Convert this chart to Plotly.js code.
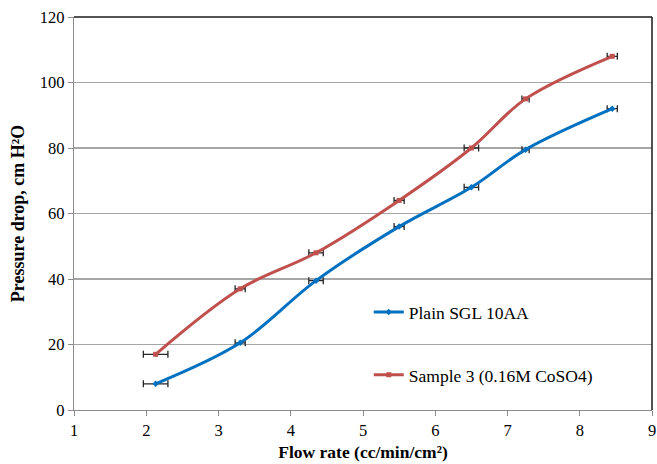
<!DOCTYPE html>
<html>
<head>
<meta charset="utf-8">
<script src="https://cdn.plot.ly/plotly-3.0.1.min.js"></script>
<style>
  html, body { margin: 0; padding: 0; background: #fff; }
  #chart { width: 657px; height: 464px; }
</style>
</head>
<body>
<div id="chart"></div>
<script>
// Flow rate (cc/min/cm²) at each measurement
const flowRate = [2.13, 3.3, 4.35, 5.5, 6.5, 7.25, 8.45];
// Horizontal uncertainty of the flow rate
const flowErr = [0.17, 0.07, 0.1, 0.07, 0.1, 0.05, 0.07];
// Pressure drop, cm H2O
const plainSGL = [8, 20.5, 39.5, 56, 68, 79.5, 92];
const sample3 = [17, 37, 48, 64, 80, 95, 108];

const seriesNames = ['Plain SGL 10AA', 'Sample 3 (0.16M CoSO4)'];
const xTicks = [1, 2, 3, 4, 5, 6, 7, 8, 9];
const yTicks = [0, 20, 40, 60, 80, 100, 120];

const serif = '"Times New Roman", "Liberation Serif", serif';

function errBars(arr) {
  return { type: 'data', array: arr, visible: true, color: '#262626', thickness: 1.3, width: 3.5 };
}

const traces = [
  {
    x: flowRate, y: plainSGL, name: seriesNames[0], legendgroup: 'a',
    mode: 'lines+markers',
    line: { color: '#0070C0', width: 3, shape: 'spline', smoothing: 1 },
    marker: { color: '#0070C0', symbol: 'diamond', size: 5 },
    error_x: errBars(flowErr)
  },
  {
    x: flowRate, y: sample3, name: seriesNames[1], legendgroup: 'b',
    mode: 'lines+markers',
    line: { color: '#C0504D', width: 3, shape: 'spline', smoothing: 1 },
    marker: { color: '#C0504D', symbol: 'square', size: 5 },
    error_x: errBars(flowErr)
  }
];

const layout = {
  width: 657, height: 464,
  margin: { l: 74, r: 5, t: 17, b: 54 },
  paper_bgcolor: '#fff', plot_bgcolor: '#fff',
  font: { family: serif, size: 16, color: '#000' },
  showlegend: true,
  legend: {
    x: 0.51, y: 0.295, xanchor: 'left', yanchor: 'top',
    bgcolor: 'rgba(0,0,0,0)', borderwidth: 0,
    traceorder: 'grouped', tracegroupgap: 37,
    font: { family: serif, size: 17.5, color: '#000' }
  },
  xaxis: {
    range: [1, 9], tickvals: xTicks, ticktext: xTicks.map(String),
    showgrid: false, zeroline: false,
    showline: true, linecolor: '#8c8c8c', linewidth: 1.3,
    ticks: 'outside', ticklen: 5, tickcolor: '#8c8c8c',
    tickfont: { family: serif, size: 16.5, color: '#000' },
    title: { text: '<b>Flow rate (cc/min/cm²)</b>', font: { family: serif, size: 17.5, color: '#000' }, standoff: 6 }
  },
  yaxis: {
    range: [0, 120], tickvals: yTicks, ticktext: yTicks.map(String),
    showgrid: true, gridcolor: '#a6a6a6', gridwidth: 1.3, zeroline: false,
    showline: true, linecolor: '#8c8c8c', linewidth: 1.3,
    ticks: 'outside', ticklen: 5, tickcolor: '#8c8c8c',
    tickfont: { family: serif, size: 16.5, color: '#000' },
    title: { text: '<b>Pressure drop, cm H²O</b>', font: { family: serif, size: 18, color: '#000' }, standoff: 10 }
  },
  shapes: [
    { type: 'line', xref: 'paper', yref: 'paper', x0: 0, x1: 1, y0: 1, y1: 1, line: { color: '#1a1a1a', width: 1.5 } },
    { type: 'line', xref: 'paper', yref: 'paper', x0: 1, x1: 1, y0: 0, y1: 1, line: { color: '#1a1a1a', width: 1.5 } }
  ]
};

Plotly.newPlot('chart', traces, layout, { displayModeBar: false, staticPlot: true });
</script>
</body>
</html>
